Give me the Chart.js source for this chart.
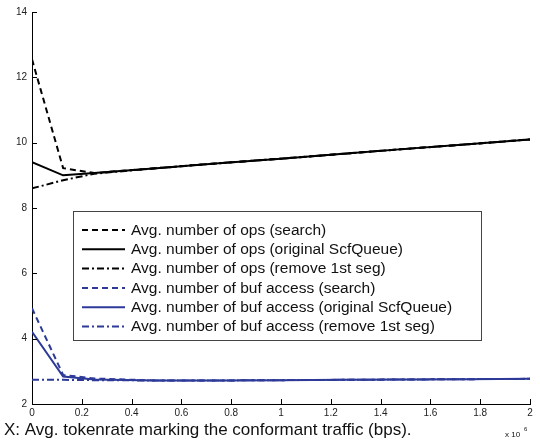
<!DOCTYPE html>
<html>
<head>
<meta charset="utf-8">
<script src="https://cdn.jsdelivr.net/npm/chart.js@4.4.1/dist/chart.umd.min.js"></script>
<style>
  body { margin: 0; background: #fff; }
  #wrap { width: 540px; height: 444px; position: relative; }
</style>
</head>
<body>
<div id="wrap"><canvas id="c"></canvas></div>
<script>
// x positions (bps)
var xVals = [0, 125000, 250000, 500000, 750000, 1000000, 1250000, 1500000, 1750000, 2000000];

// avg. number of ops
var opsSearch = [12.55, 9.22, 9.07, 9.22, 9.37, 9.51, 9.66, 9.81, 9.95, 10.1];
var opsOrig   = [9.4, 9.0, 9.07, 9.22, 9.37, 9.51, 9.66, 9.81, 9.95, 10.1];
var opsRemove = [8.6, 8.85, 9.05, 9.22, 9.37, 9.51, 9.66, 9.81, 9.95, 10.1];

// avg. number of buf access
var bufSearch = [4.93, 2.89, 2.78, 2.72, 2.72, 2.73, 2.74, 2.75, 2.76, 2.77];
var bufOrig   = [4.21, 2.84, 2.75, 2.72, 2.72, 2.73, 2.74, 2.75, 2.76, 2.77];
var bufRemove = [2.74, 2.74, 2.73, 2.72, 2.72, 2.73, 2.74, 2.75, 2.76, 2.77];

var seriesLabels = [
    'Avg. number of ops (search)',
    'Avg. number of ops (original ScfQueue)',
    'Avg. number of ops (remove 1st seg)',
    'Avg. number of buf access (search)',
    'Avg. number of buf access (original ScfQueue)',
    'Avg. number of buf access (remove 1st seg)'
];
var yTicks = [2, 4, 6, 8, 10, 12, 14];

var BLUE = '#2d3a97';
var dashed = [6, 4];
var dashDot = [7, 3, 2, 3];
var FONT = '"Liberation Sans", Arial, sans-serif';

function pts(ys) {
    return ys.map((y, i) => ({ x: xVals[i], y: y }));
}

function ds(label, ys, color, dash) {
    return {
	label: label,
	data: pts(ys),
	borderColor: color,
	borderWidth: 2,
	borderDash: dash,
	fill: false,
	pointRadius: 0,
	tension: 0
    };
}

// axis ticks pointing into the plot, and the framed legend
var extras = {
    id: 'extras',
    afterDraw(chart) {
	const c = chart.ctx;
	const a = chart.chartArea;
	const xs = chart.scales.x, ys = chart.scales.y;
	c.save();
	c.strokeStyle = '#000';
	c.lineWidth = 1;
	c.setLineDash([]);
	c.beginPath();
	xs.ticks.forEach(t => {
	    const px = Math.round(xs.getPixelForValue(t.value)) + 0.5;
	    c.moveTo(px, a.bottom);
	    c.lineTo(px, a.bottom - 5);
	});
	ys.ticks.forEach(t => {
	    const py = Math.round(ys.getPixelForValue(t.value)) + 0.5;
	    c.moveTo(a.left, py);
	    c.lineTo(a.left + 5, py);
	});
	c.stroke();

	// legend box
	const bx = 73.5, by = 211.5, bw = 408, bh = 129;
	c.fillStyle = '#fff';
	c.fillRect(bx, by, bw, bh);
	c.strokeStyle = '#444';
	c.strokeRect(bx, by, bw, bh);
	c.font = '15.5px ' + FONT;
	c.textBaseline = 'middle';
	chart.data.datasets.forEach((d, i) => {
	    const y = 230 + i * 19.3;
	    c.strokeStyle = d.borderColor;
	    c.lineWidth = 2;
	    c.setLineDash(d.borderDash || []);
	    c.beginPath();
	    c.moveTo(82, y);
	    c.lineTo(125, y);
	    c.stroke();
	    c.fillStyle = '#111';
	    c.fillText(d.label, 131, y + 0.5);
	});

	// axis title and exponent
	c.setLineDash([]);
	c.fillStyle = '#111';
	c.textBaseline = 'alphabetic';
	c.font = '17px ' + FONT;
	c.fillText('X: Avg. tokenrate marking the conformant traffic (bps).', 4, 435);
	c.font = '8px ' + FONT;
	c.fillText('x 10', 505, 437);
	c.font = '6px ' + FONT;
	c.fillText('6', 524, 431);
	c.restore();
    }
};

new Chart(document.getElementById('c'), {
    type: 'line',
    data: {
	datasets: [
	    ds(seriesLabels[0], opsSearch, '#000', dashed),
	    ds(seriesLabels[1], opsOrig, '#000', []),
	    ds(seriesLabels[2], opsRemove, '#000', dashDot),
	    ds(seriesLabels[3], bufSearch, BLUE, dashed),
	    ds(seriesLabels[4], bufOrig, BLUE, []),
	    ds(seriesLabels[5], bufRemove, BLUE, dashDot)
	]
    },
    options: {
	animation: false,
	responsive: true,
	maintainAspectRatio: false,
	layout: { autoPadding: false, padding: { top: 12, right: 10, left: 0, bottom: 0 } },
	scales: {
	    x: {
		type: 'linear',
		min: 0,
		max: 2000000,
		afterFit: (s) => { s.height = 40; },
		ticks: {
		    stepSize: 200000,
		    padding: 3,
		    color: '#222',
		    font: { size: 10, family: FONT },
		    callback: (v) => String(+(v / 1e6).toFixed(1))
		},
		grid: { display: true, drawOnChartArea: false, drawTicks: false },
		border: { display: true, color: '#000', width: 1 }
	    },
	    y: {
		min: 2,
		max: 14,
		afterFit: (s) => { s.width = 32; },
		afterBuildTicks: (s) => { s.ticks = yTicks.map(v => ({ value: v })); },
		ticks: {
		    padding: 5,
		    color: '#222',
		    font: { size: 10, family: FONT }
		},
		grid: { display: true, drawOnChartArea: false, drawTicks: false },
		border: { display: true, color: '#000', width: 1 }
	    }
	},
	plugins: {
	    legend: { display: false },
	    tooltip: { enabled: false }
	}
    },
    plugins: [extras]
});
</script>
</body>
</html>
